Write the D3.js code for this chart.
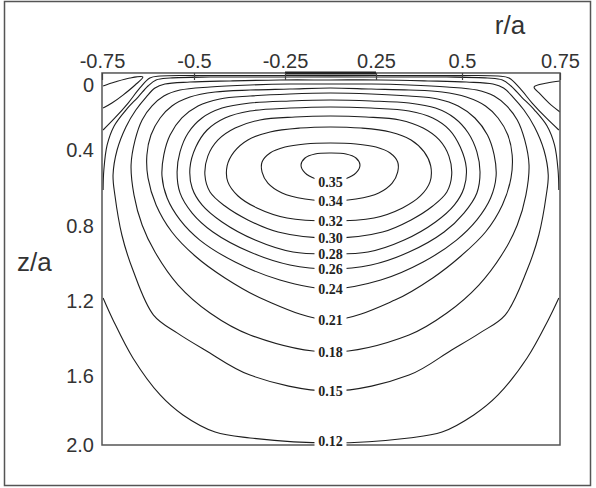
<!DOCTYPE html>
<html lang="en">
<meta charset="utf-8">
<style>
body { margin: 0; background: #fff; }
.contour { fill: none; stroke: #1e1e1e; stroke-width: 1.1px; }
.frame { fill: none; stroke: #555; stroke-width: 1.5px; }
.axis text { font-family: "Liberation Sans", Arial, sans-serif; font-size: 20px; fill: #333; }
.axis line { stroke: #444; stroke-width: 1.2px; }
.title { font-family: "Liberation Sans", Arial, sans-serif; font-size: 26px; fill: #333; }
.clabel { font-family: "Liberation Serif", "Times New Roman", serif; font-weight: bold; font-size: 14px; fill: #222; }
</style>
<body>
<script src="https://d3js.org/d3.v7.min.js"></script>
<script>
"use strict";

// tick values as printed on the figure (labels are evenly spaced, not to scale)
var rTicks = [-0.75, -0.5, -0.25, 0.25, 0.5, 0.75];
var zTicks = [0, 0.4, 0.8, 1.2, 1.6, 2.0];
var zTop = -0.074;   // top edge of the box sits a little above the "0" label

// contour levels (labelled along r = 0, at the bottom of each loop)
var levels = ["0.35", "0.34", "0.32", "0.30", "0.28", "0.26", "0.24", "0.21", "0.18", "0.15", "0.12"];

// left half of each contour, [r/a, z/a], from top centre round to bottom centre
var c035 = [[0,0.416],[-0.085,0.421],[-0.140,0.442],[-0.162,0.479],[-0.140,0.521],[-0.080,0.553],[0,0.568]];
var c034 = [[0,0.357],[-0.140,0.363],[-0.25,0.382],[-0.291,0.416],[-0.313,0.463],[-0.313,0.516],[-0.297,0.574],[-0.258,0.626],[-0.140,0.658],[0,0.668]];
var c032 = [[0,0.258],[-0.168,0.265],[-0.291,0.289],[-0.352,0.338],[-0.390,0.41],[-0.409,0.484],[-0.407,0.568],[-0.379,0.642],[-0.327,0.705],[-0.239,0.758],[0,0.774]];
var c030 = [[0,0.191],[-0.195,0.197],[-0.319,0.215],[-0.387,0.265],[-0.434,0.338],[-0.462,0.432],[-0.470,0.532],[-0.456,0.621],[-0.415,0.695],[-0.352,0.768],[-0.269,0.832],[0,0.864]];
var c028 = [[0,0.135],[-0.223,0.142],[-0.346,0.160],[-0.415,0.203],[-0.464,0.277],[-0.495,0.382],[-0.511,0.495],[-0.505,0.600],[-0.478,0.689],[-0.423,0.779],[-0.332,0.875],[-0.206,0.939],[0,0.949]];
var c026 = [[0,0.092],[-0.223,0.098],[-0.346,0.111],[-0.423,0.142],[-0.478,0.203],[-0.516,0.295],[-0.538,0.41],[-0.546,0.516],[-0.538,0.626],[-0.505,0.732],[-0.448,0.832],[-0.346,0.939],[-0.223,1.008],[0,1.029]];
var c024 = [[0,0.049],[-0.223,0.055],[-0.346,0.068],[-0.429,0.086],[-0.489,0.129],[-0.533,0.203],[-0.565,0.308],[-0.582,0.426],[-0.587,0.537],[-0.573,0.653],[-0.538,0.768],[-0.484,0.875],[-0.387,0.992],[-0.264,1.088],[0,1.136]];
var c021 = [[0,0.018],[-0.223,0.025],[-0.346,0.031],[-0.442,0.043],[-0.511,0.074],[-0.560,0.129],[-0.592,0.203],[-0.617,0.308],[-0.628,0.426],[-0.625,0.547],[-0.603,0.689],[-0.560,0.832],[-0.497,0.96],[-0.415,1.077],[-0.305,1.195],[0,1.301]];
var c018 = [[0,-0.006],[-0.223,-0.006],[-0.346,0],[-0.456,0.012],[-0.538,0.031],[-0.582,0.068],[-0.614,0.129],[-0.641,0.215],[-0.660,0.338],[-0.671,0.479],[-0.663,0.637],[-0.641,0.795],[-0.606,0.939],[-0.543,1.115],[-0.456,1.264],[-0.346,1.381],[0,1.472]];
var c015 = [[0,-0.031],[-0.264,-0.031],[-0.401,-0.025],[-0.511,-0.018],[-0.579,-0.006],[-0.606,0.018],[-0.630,0.074],[-0.658,0.154],[-0.685,0.258],[-0.709,0.4],[-0.720,0.532],[-0.715,0.637],[-0.696,0.848],[-0.666,1.035],[-0.610,1.275],[-0.546,1.37],[-0.470,1.461],[-0.346,1.595],[0,1.687]];
// 0.12 meets the side walls, so it is drawn in two open pieces
var c012top = [[0,-0.049],[-0.291,-0.049],[-0.456,-0.049],[-0.565,-0.043],[-0.603,-0.031],[-0.625,0.006],[-0.652,0.074],[-0.685,0.154],[-0.717,0.252],[-0.736,0.369],[-0.745,0.505],[-0.747,0.611]];
var c012bot = [[-0.747,1.184],[-0.720,1.301],[-0.666,1.504],[-0.592,1.710],[-0.530,1.826],[-0.442,1.925],[-0.346,1.959],[0,1.988]];
// unlabelled line hugging the top, and the small corner loops
var cTopA = [[0,-0.058],[-0.484,-0.058],[-0.592,-0.055],[-0.620,-0.043],[-0.647,0.018],[-0.679,0.111],[-0.715,0.203],[-0.747,0.277]];
var cornerL = [[-0.747,0.006],[-0.715,-0.018],[-0.674,-0.043],[-0.639,-0.049],[-0.660,0],[-0.693,0.062],[-0.723,0.111],[-0.747,0.142]];
var cornerR = [[0.75,-0.025],[0.717,-0.012],[0.684,0.012],[0.699,0.055],[0.722,0.111],[0.75,0.166]];

var closedLoops = [c035, c034, c032, c030, c028, c026, c024, c021, c018, c015];

// ---- scales ----
var x = d3.scaleLinear().domain(rTicks).range([102, 194, 285, 376, 462, 560]);
var y = d3.scaleLinear().domain(zTicks).range([85, 150, 226, 301, 376, 445]);

var W = 596, H = 488;
var svg = d3.select("body").append("svg")
    .attr("width", W)
    .attr("height", H);

// outer border of the figure
svg.append("rect")
    .attr("x", 4.5).attr("y", 1.5)
    .attr("width", 586).attr("height", 484)
    .attr("fill", "none").attr("stroke", "#555").attr("stroke-width", 1.5);

var x0 = x(rTicks[0]), x1 = x(rTicks[rTicks.length - 1]);
var y0 = y(zTop), y1 = y(zTicks[zTicks.length - 1]);

svg.append("clipPath").attr("id", "box")
  .append("rect")
    .attr("x", x0).attr("y", y0)
    .attr("width", x1 - x0).attr("height", y1 - y0);

function mirror(pts) { return pts.map(p => [-p[0], p[1]]); }

// closed loop from the left half (top centre -> bottom centre)
function loop(half) {
  return half.concat(mirror(half.slice(1, -1)).reverse());
}
// open piece from the centre out to the wall
function fromCentre(half) {
  return half.slice().reverse().concat(mirror(half.slice(1)));
}
// open piece from the wall in to the centre
function toCentre(half) {
  return half.concat(mirror(half.slice(0, -1)).reverse());
}

var closedLine = d3.line()
    .x(d => x(d[0])).y(d => y(d[1]))
    .curve(d3.curveCatmullRomClosed.alpha(0.5));
var openLine = d3.line()
    .x(d => x(d[0])).y(d => y(d[1]))
    .curve(d3.curveCatmullRom.alpha(0.5));

var g = svg.append("g").attr("clip-path", "url(#box)");

g.selectAll("path.loop")
  .data(closedLoops)
  .enter().append("path")
    .attr("class", "contour loop")
    .attr("d", d => closedLine(loop(d)));

var openPieces = [fromCentre(c012top), toCentre(c012bot), fromCentre(cTopA), cornerL, cornerR];
g.selectAll("path.open")
  .data(openPieces)
  .enter().append("path")
    .attr("class", "contour open")
    .attr("d", d => openLine(d));

// frame
svg.append("rect")
    .attr("class", "frame")
    .attr("x", x0).attr("y", y0)
    .attr("width", x1 - x0).attr("height", y1 - y0);

// heavy strip on the top between -0.25 and 0.25
svg.append("line")
    .attr("x1", x(-0.25)).attr("x2", x(0.25))
    .attr("y1", y0).attr("y2", y0)
    .attr("stroke", "#222").attr("stroke-width", 3);

// contour labels at r = 0
var labelAt = closedLoops.concat([c012bot]).map(c => c[c.length - 1]);
var lab = svg.append("g").selectAll("g")
  .data(levels)
  .enter().append("g")
    .attr("transform", (d, i) => "translate(" + x(0) + "," + (y(labelAt[i][1]) - (i === levels.length - 1 ? 2 : 0)) + ")");
lab.append("rect")
    .attr("x", -16).attr("y", -6).attr("width", 32).attr("height", 12)
    .attr("fill", "#fff");
lab.append("text")
    .attr("class", "clabel")
    .attr("text-anchor", "middle")
    .attr("dy", "0.35em")
    .text(d => d);

// axes
var xAxis = d3.axisTop(x)
    .tickValues(rTicks)
    .tickFormat(d => String(d))
    .tickSizeInner(-7).tickSizeOuter(0).tickPadding(5);
svg.append("g")
    .attr("class", "axis")
    .attr("transform", "translate(0," + y0 + ")")
    .call(xAxis)
    .call(a => a.select(".domain").remove());

var yAxis = d3.axisLeft(y)
    .tickValues(zTicks)
    .tickFormat(d => d === 0 ? "0" : d3.format(".1f")(d))
    .tickSize(0).tickPadding(8);
svg.append("g")
    .attr("class", "axis")
    .attr("transform", "translate(" + x0 + ",0)")
    .call(yAxis)
    .call(a => a.select(".domain").remove());

svg.append("text").attr("class", "title")
    .attr("x", 510).attr("y", 34).attr("text-anchor", "middle")
    .text("r/a");
svg.append("text").attr("class", "title")
    .attr("x", 17).attr("y", 271)
    .text("z/a");
</script>
</body>
</html>
